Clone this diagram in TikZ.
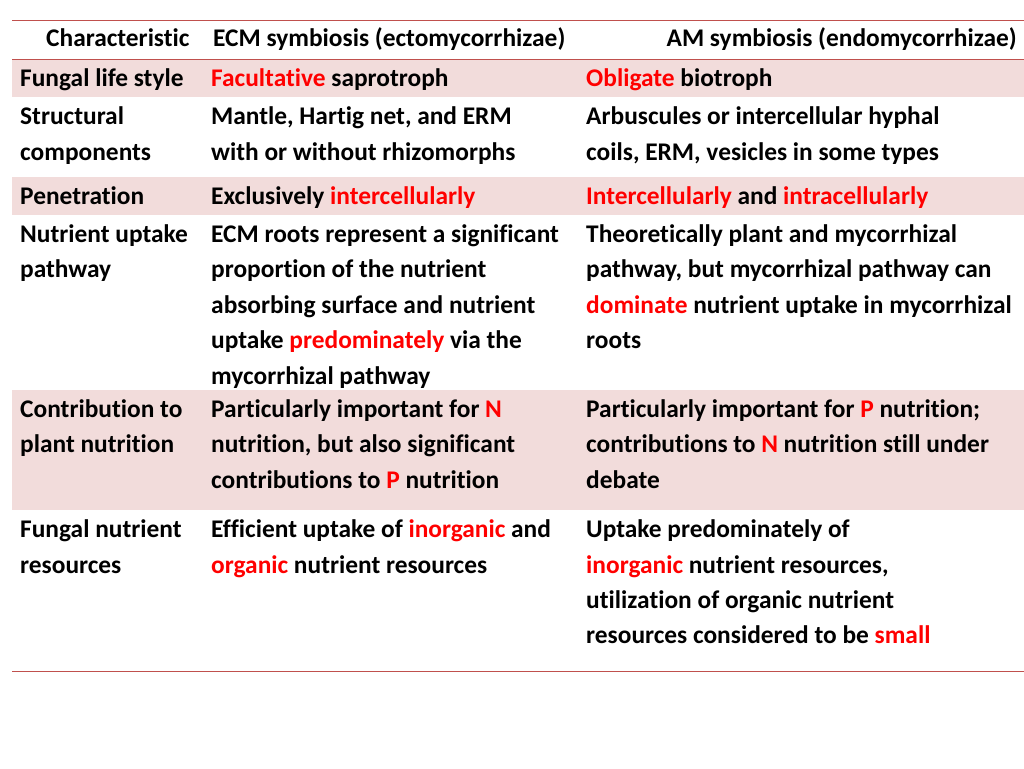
\documentclass[tikz,border=0pt]{standalone}
\usepackage{fontspec}
\setmainfont{Carlito}[Ligatures=NoCommon]
\definecolor{shade}{HTML}{F2DCDB}
\definecolor{rule}{HTML}{C0504D}
\definecolor{hl}{HTML}{FF0000}
\newcommand{\hi}[1]{\textcolor{hl}{#1}}
\begin{document}
\begin{tikzpicture}[x=1pt,y=-1pt,
  txt/.style={anchor=base west,inner sep=0pt,font=\fontsize{25.4}{30}\selectfont\bfseries},
  hdr/.style={inner sep=0pt,font=\fontsize{25.4}{30}\selectfont\bfseries},
  band/.style={fill=shade,draw=none},
  hrule/.style={draw=rule,line width=1pt}]
\useasboundingbox (0,0) rectangle (1024,768);
% shaded bands
\path[band] (12,59) rectangle (1024,97);
\path[band] (12,177) rectangle (1024,215);
\path[band] (12,390) rectangle (1024,510);
% rules
\coordinate (tl) at (12,21); \coordinate (tr) at (1024,21);
\coordinate (ml) at (12,59.5); \coordinate (mr) at (1024,59.5);
\coordinate (bl) at (12,671); \coordinate (br) at (1024,671);
\draw[hrule] (tl) -- (tr);
\draw[hrule] (ml) -- (mr);
\draw[hrule] (bl) -- (br);
% header
\node[hdr,anchor=base west] (h1) at (46,47) {Characteristic};
\node[hdr,anchor=base west] (h2) at (213,47) {ECM symbiosis (ectomycorrhizae)};
\node[hdr,anchor=base east] (h3) at (1017,47) {AM symbiosis (endomycorrhizae)};
% row 1
\node[txt] (a1) at (20,86) {Fungal life style};
\node[txt] (b1) at (211,86) {\hi{Facultative} saprotroph};
\node[txt] (c1) at (586,86) {\hi{Obligate} biotroph};
% row 2
\node[txt] (a2) at (20,124) {Structural};
\node[txt] (a2b) at (20,160) {components};
\node[txt] (b2) at (211,124) {Mantle, Hartig net, and ERM};
\node[txt] (b2b) at (211,160) {with or without rhizomorphs};
\node[txt] (c2) at (586,124) {Arbuscules or intercellular hyphal};
\node[txt] (c2b) at (586,160) {coils, ERM, vesicles in some types};
% row 3
\node[txt] (a3) at (20,204) {Penetration};
\node[txt] (b3) at (211,204) {Exclusively \hi{intercellularly}};
\node[txt] (c3) at (586,204) {\hi{Intercellularly} and \hi{intracellularly}};
% row 4
\node[txt] (a4) at (20,242) {Nutrient uptake};
\node[txt] (a4b) at (20,277) {pathway};
\node[txt] (b4) at (211,242) {ECM roots represent a significant};
\node[txt] (b4b) at (211,277) {proportion of the nutrient};
\node[txt] (b4c) at (211,313) {absorbing surface and nutrient};
\node[txt] (b4d) at (211,348) {uptake \hi{predominately} via the};
\node[txt] (b4e) at (211,384) {mycorrhizal pathway};
\node[txt] (c4) at (586,242) {Theoretically plant and mycorrhizal};
\node[txt] (c4b) at (586,277) {pathway, but mycorrhizal pathway can};
\node[txt] (c4c) at (586,313) {\hi{dominate} nutrient uptake in mycorrhizal};
\node[txt] (c4d) at (586,348) {roots};
% row 5
\node[txt] (a5) at (20,417) {Contribution to};
\node[txt] (a5b) at (20,452) {plant nutrition};
\node[txt] (b5) at (211,417) {Particularly important for \hi{N}};
\node[txt] (b5b) at (211,452) {nutrition, but also significant};
\node[txt] (b5c) at (211,488) {contributions to \hi{P} nutrition};
\node[txt] (c5) at (586,417) {Particularly important for \hi{P} nutrition;};
\node[txt] (c5b) at (586,452) {contributions to \hi{N} nutrition still under};
\node[txt] (c5c) at (586,488) {debate};
% row 6
\node[txt] (a6) at (20,537) {Fungal nutrient};
\node[txt] (a6b) at (20,573) {resources};
\node[txt] (b6) at (211,537) {Efficient uptake of \hi{inorganic} and};
\node[txt] (b6b) at (211,573) {\hi{organic} nutrient resources};
\node[txt] (c6) at (586,537) {Uptake predominately of};
\node[txt] (c6b) at (586,573) {\hi{inorganic} nutrient resources,};
\node[txt] (c6c) at (586,608) {utilization of organic nutrient};
\node[txt] (c6d) at (586,643) {resources considered to be \hi{small}};
\end{tikzpicture}
\end{document}
